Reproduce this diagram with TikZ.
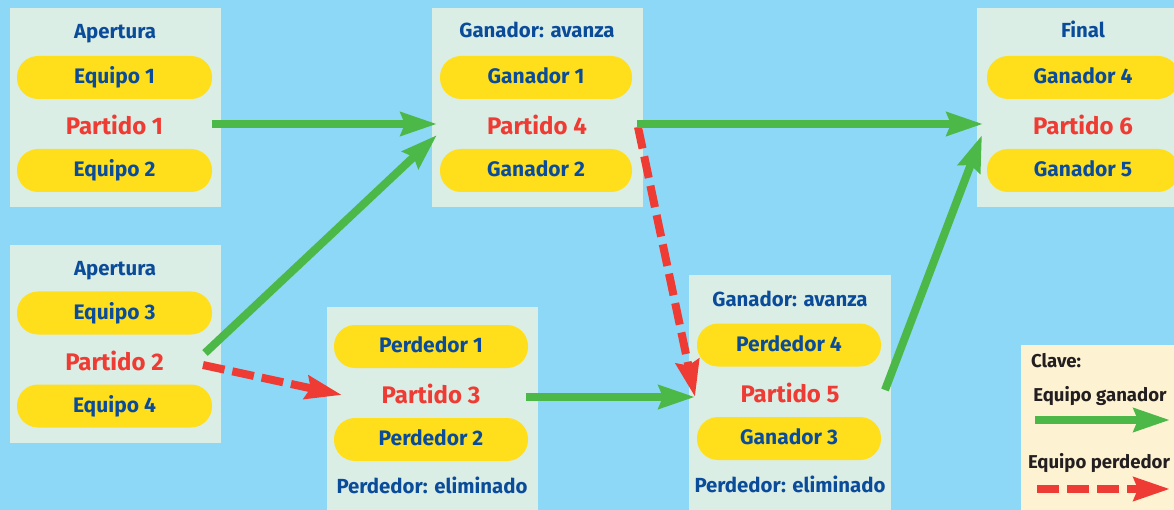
\documentclass[tikz,border=0pt]{standalone}
\usepackage{fontspec}
\setmainfont{Fira Sans}
\usetikzlibrary{arrows.meta}
\definecolor{bg}{HTML}{8CD8F6}
\definecolor{panelc}{HTML}{DBEEE5}
\definecolor{pillc}{HTML}{FFDF1B}
\definecolor{bluet}{HTML}{0B4C9A}
\definecolor{redt}{HTML}{EE3B33}
\definecolor{greena}{HTML}{4CB848}
\definecolor{keybg}{HTML}{FDF3D3}
\definecolor{keyt}{HTML}{231F20}
\begin{document}
\begin{tikzpicture}[x=1pt,y=-1pt,
  panel/.style={fill=panelc, draw=none, anchor=north west, inner sep=0pt},
  pill/.style={fill=pillc, draw=none, rounded corners=21pt, minimum height=43pt, inner sep=0pt,
     text height=12.5pt, text depth=0pt, font=\bfseries\fontsize{21}{24}\selectfont, text=bluet},
  ttl/.style={anchor=base, font=\bfseries\fontsize{20.4}{24}\selectfont, text=bluet, inner sep=0pt},
  match/.style={anchor=base, font=\bfseries\fontsize{24}{27}\selectfont, text=redt, inner sep=0pt},
  keytxt/.style={font=\bfseries\fontsize{18.6}{21}\selectfont, text=keyt, inner sep=0pt},
  win/.style={draw=greena, line width=8pt, -{Stealth[length=36pt, width=23pt, inset=4pt]}},
  lose/.style={draw=redt, line width=8pt, dash pattern=on 22pt off 8pt, -{Stealth[length=36pt, width=23pt, inset=4pt]}}
]
\useasboundingbox (0,0) rectangle (1174,510);
\fill[bg] (0,0) rectangle (1174,510);
\begin{scope}
\clip (0,0) rectangle (1174,510);
% panels
\node[panel, minimum width=211pt, minimum height=199pt] (p1) at (10,8) {};
\node[panel, minimum width=211pt, minimum height=198pt] (p2) at (10,245) {};
\node[panel, minimum width=211pt, minimum height=199pt] (p4) at (432,8) {};
\node[panel, minimum width=211pt, minimum height=215pt] (p3) at (327,307) {};
\node[panel, minimum width=202pt, minimum height=245pt] (p5) at (689,275) {};
\node[panel, minimum width=215pt, minimum height=199pt] (p6) at (977,8) {};
% panel 1
\node[ttl] (t1) at (115,39) {Apertura};
\node[pill, minimum width=195pt] (e1) at (114.5,77.5) {Equipo 1};
\node[match] (m1) at (114.5,135) {Partido 1};
\node[pill, minimum width=195pt] (e2) at (114.5,170.5) {Equipo 2};
% panel 2
\node[ttl] (t2) at (115,276) {Apertura};
\node[pill, minimum width=195pt] (e3) at (114.5,313) {Equipo 3};
\node[match] (m2) at (114.5,370) {Partido 2};
\node[pill, minimum width=195pt] (e4) at (114.5,406) {Equipo 4};
% panel 4
\node[ttl] (t4) at (537,38) {Ganador: avanza};
\node[pill, minimum width=192pt] (g1) at (536,77.5) {Ganador 1};
\node[match] (m4) at (537,135) {Partido 4};
\node[pill, minimum width=192pt] (g2) at (536,170.5) {Ganador 2};
% panel 3
\node[pill, minimum width=194pt] (l1) at (431,346.5) {Perdedor 1};
\node[match] (m3) at (431,403) {Partido 3};
\node[pill, minimum width=194pt] (l2) at (431,439.5) {Perdedor 2};
\node[ttl] (t3) at (432,493) {Perdedor: eliminado};
% panel 5
\node[ttl] (t5) at (790,306) {Ganador: avanza};
\node[pill, minimum width=184pt] (l4) at (789,345) {Perdedor 4};
\node[match] (m5) at (790,402) {Partido 5};
\node[pill, minimum width=184pt] (g3) at (789,438.5) {Ganador 3};
\node[ttl] (t5b) at (790,492) {Perdedor: eliminado};
% panel 6
\node[ttl] (t6) at (1083,38) {Final};
\node[pill, minimum width=192pt] (g4) at (1083,77.5) {Ganador 4};
\node[match] (m6) at (1083,135) {Partido 6};
\node[pill, minimum width=192pt] (g5) at (1083,170.5) {Ganador 5};
% legend
\node[panel, fill=keybg, minimum width=160pt, minimum height=170pt] (key) at (1021,345) {};
\node[keytxt, anchor=base west] (k0) at (1031,367) {Clave:};
\node[keytxt, anchor=base] (k1) at (1100,401) {Equipo ganador};
\node[keytxt, anchor=base] (k2) at (1099,468) {Equipo perdedor};
% connector end points
\coordinate (a1s) at (212,124); \coordinate (a1e) at (437,124);
\coordinate (a2s) at (205,353); \coordinate (a2e) at (437,135);
\coordinate (a3s) at (637,124); \coordinate (a3e) at (983,124);
\coordinate (r1s) at (638,127); \coordinate (r1e) at (695,397);
\coordinate (r2s) at (203,365); \coordinate (r2e) at (342,395);
\coordinate (a4s) at (526,397); \coordinate (a4e) at (695,397);
\coordinate (a5s) at (885,390); \coordinate (a5e) at (982,135);
\coordinate (kgs) at (1035,420); \coordinate (kge) at (1170,420);
\coordinate (krs) at (1037,489); \coordinate (kre) at (1170,489);
% connectors
\draw[win] (a1s) -- (a1e);
\draw[win] (a2s) -- (a2e);
\draw[win] (a4s) -- (a4e);
\draw[win] (a5s) -- (a5e);
\draw[lose] (r1s) -- (r1e);
\draw[win] (a3s) -- (a3e);
\draw[lose] (r2s) -- (r2e);
\draw[win] (kgs) -- (kge);
\draw[lose] (krs) -- (kre);
\end{scope}
\end{tikzpicture}
\end{document}
